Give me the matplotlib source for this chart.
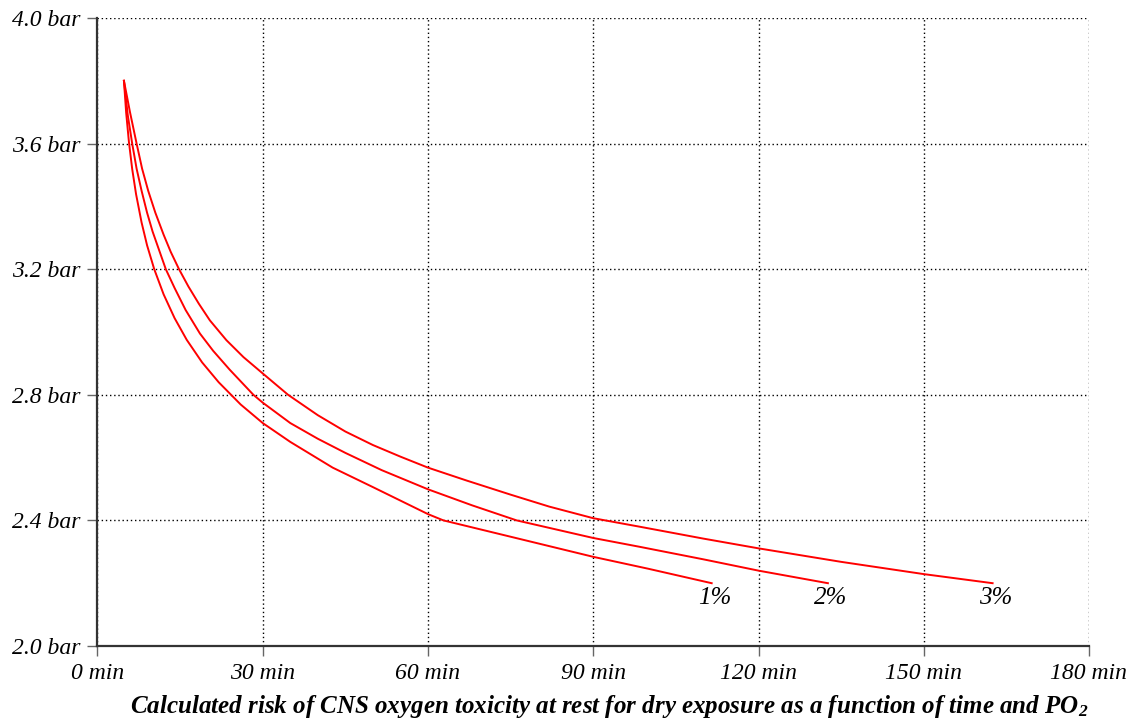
import matplotlib
matplotlib.use("Agg")
import matplotlib.pyplot as plt

# time (min) vs PO2 (bar)
t_1 = [4.8, 5.2, 5.7, 6.3, 7.0, 8.0, 9.0, 10.3, 12.0, 14.0, 16.2, 19.0, 22.0, 26.0, 30.0, 35.0,
       42.7, 50.0, 55.0, 60.0, 62.8, 75.0, 90.0, 100.0, 111.5]
p_1 = [3.80, 3.699, 3.606, 3.519, 3.439, 3.349, 3.276, 3.200, 3.120, 3.044, 2.975, 2.903, 2.840,
       2.769, 2.710, 2.650, 2.568, 2.506, 2.463, 2.420, 2.40, 2.348, 2.284, 2.246, 2.20]

t_2 = [4.8, 5.5, 6.3, 7.1, 8.0, 9.0, 10.0, 11.2, 12.4, 14.0, 16.0, 18.6, 21.0, 24.0, 28.3, 30.0,
       35.0, 40.0, 45.0, 51.6, 60.0, 68.0, 76.1, 90.0, 98.4, 110.0, 120.0, 132.6]
p_2 = [3.80, 3.69, 3.60, 3.52, 3.45, 3.38, 3.32, 3.26, 3.20, 3.14, 3.07, 2.995, 2.94, 2.88, 2.80,
       2.775, 2.71, 2.66, 2.615, 2.56, 2.499, 2.448, 2.40, 2.344, 2.316, 2.276, 2.24, 2.20]

t_3 = [4.8, 5.9, 7.1, 8.1, 9.2, 10.5, 12.0, 13.3, 14.8, 16.5, 18.4, 20.4, 23.4, 26.5, 30.0, 34.6,
       40.0, 45.0, 50.0, 55.0, 60.0, 67.0, 75.0, 82.0, 90.0, 98.4, 110.0, 120.0, 135.0, 150.0, 162.5]
p_3 = [3.80, 3.70, 3.60, 3.52, 3.45, 3.38, 3.31, 3.255, 3.20, 3.145, 3.09, 3.037, 2.974, 2.92,
       2.868, 2.80, 2.735, 2.683, 2.64, 2.603, 2.568, 2.527, 2.482, 2.444, 2.407, 2.38, 2.342, 2.311,
       2.268, 2.229, 2.20]

curve_labels = ["1%", "2%", "3%"]

x_ticks = [0, 30, 60, 90, 120, 150, 180]
y_ticks = [2.0, 2.4, 2.8, 3.2, 3.6, 4.0]

title = "Calculated risk of CNS oxygen toxicity at rest for dry exposure as a function of time and PO$_2$"

plt.rcParams["font.family"] = ["Liberation Serif", "DejaVu Serif"]
plt.rcParams["mathtext.fontset"] = "custom"
plt.rcParams["mathtext.rm"] = "Liberation Serif:bold:italic"
plt.rcParams["mathtext.it"] = "Liberation Serif:bold:italic"
plt.rcParams["mathtext.bf"] = "Liberation Serif:bold:italic"

fig = plt.figure(figsize=(11.44, 7.24), dpi=100)
ax = fig.add_axes([97.5 / 1144, 1 - 646 / 724, (1089 - 97.5) / 1144, (646 - 18) / 724])

for t, p, lab in zip([t_1, t_2, t_3], [p_1, p_2, p_3], curve_labels):
    ax.plot(t, p, color="red", lw=1.4, solid_joinstyle="round", zorder=3)
    ax.annotate(lab, xy=(t[-1], p[-1]), xytext=(3, -15), textcoords="offset pixels",
                ha="center", va="center", fontsize=18, style="italic")

ax.set_xlim(0, 180)
ax.set_ylim(2.0, 4.0)
ax.set_xticks(x_ticks)
ax.set_xticklabels([f"{v} min" for v in x_ticks])
ax.set_yticks(y_ticks)
ax.set_yticklabels([f"{v:.1f} bar" for v in y_ticks])
for lbl in ax.get_xticklabels() + ax.get_yticklabels():
    lbl.set_fontstyle("italic")
    lbl.set_fontsize(17)

ax.grid(True, color="black", lw=1.0, linestyle=(0, (1, 2)))
ax.tick_params(axis="both", length=7, width=1, color="#666666", pad=5)
for s in ["top", "right"]:
    ax.spines[s].set_visible(False)
for s in ["left", "bottom"]:
    ax.spines[s].set_color("#333333")
    ax.spines[s].set_linewidth(1.6)

fig.text(609 / 1144, 1 - 706 / 724, title, ha="center", va="center",
         fontsize=18, fontweight="bold", style="italic")

fig.savefig("out.png", dpi=100)
